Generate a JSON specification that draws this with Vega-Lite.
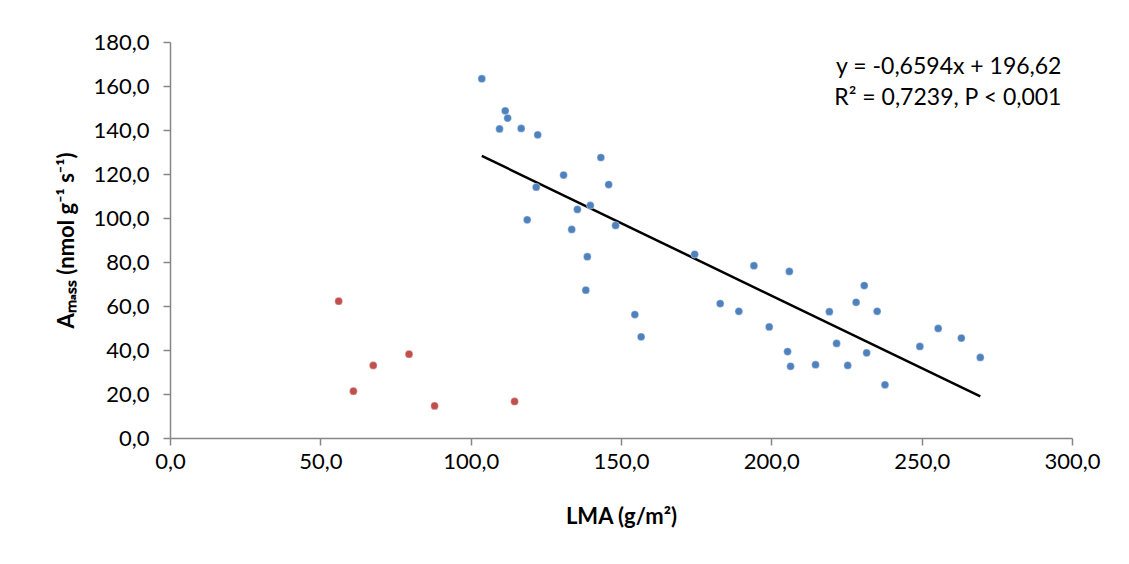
{
  "$schema": "https://vega.github.io/schema/vega-lite/v6.json",
  "width": 902,
  "height": 396,
  "autosize": {"type": "none"},
  "padding": {"left": 170, "top": 42, "right": 57, "bottom": 126},
  "background": "white",
  "config": {
    "view": {"stroke": null},
    "font": "Lato",
    "axis": {
      "grid": false,
      "domainColor": "#868686",
      "tickColor": "#868686",
      "domainWidth": 1.5,
      "tickWidth": 1.5,
      "tickSize": 7,
      "labelFont": "Lato",
      "labelFontSize": 22,
      "labelColor": "#000000",
      "titleFont": "Lato",
      "titleFontSize": 22,
      "titleFontWeight": "bold",
      "titleColor": "#000000"
    }
  },
  "datasets": {
    "pts": [
      {"lma": 103.7, "amass": 163.3, "group": "A"},
      {"lma": 111.5, "amass": 148.7, "group": "A"},
      {"lma": 112.3, "amass": 145.4, "group": "A"},
      {"lma": 109.6, "amass": 140.5, "group": "A"},
      {"lma": 116.8, "amass": 140.7, "group": "A"},
      {"lma": 122.3, "amass": 137.8, "group": "A"},
      {"lma": 143.3, "amass": 127.5, "group": "A"},
      {"lma": 130.9, "amass": 119.5, "group": "A"},
      {"lma": 145.9, "amass": 115.2, "group": "A"},
      {"lma": 121.8, "amass": 114.0, "group": "A"},
      {"lma": 139.8, "amass": 105.7, "group": "A"},
      {"lma": 135.5, "amass": 103.9, "group": "A"},
      {"lma": 118.8, "amass": 99.2, "group": "A"},
      {"lma": 148.2, "amass": 96.6, "group": "A"},
      {"lma": 133.6, "amass": 94.8, "group": "A"},
      {"lma": 138.8, "amass": 82.4, "group": "A"},
      {"lma": 138.3, "amass": 67.2, "group": "A"},
      {"lma": 154.6, "amass": 56.1, "group": "A"},
      {"lma": 156.7, "amass": 46.0, "group": "A"},
      {"lma": 174.5, "amass": 83.5, "group": "A"},
      {"lma": 194.2, "amass": 78.3, "group": "A"},
      {"lma": 206.0, "amass": 75.7, "group": "A"},
      {"lma": 230.9, "amass": 69.3, "group": "A"},
      {"lma": 183.0, "amass": 61.1, "group": "A"},
      {"lma": 189.2, "amass": 57.6, "group": "A"},
      {"lma": 228.2, "amass": 61.7, "group": "A"},
      {"lma": 219.3, "amass": 57.4, "group": "A"},
      {"lma": 235.2, "amass": 57.6, "group": "A"},
      {"lma": 199.3, "amass": 50.5, "group": "A"},
      {"lma": 255.5, "amass": 49.8, "group": "A"},
      {"lma": 263.2, "amass": 45.4, "group": "A"},
      {"lma": 221.7, "amass": 43.0, "group": "A"},
      {"lma": 249.4, "amass": 41.6, "group": "A"},
      {"lma": 205.4, "amass": 39.3, "group": "A"},
      {"lma": 231.7, "amass": 38.7, "group": "A"},
      {"lma": 269.5, "amass": 36.6, "group": "A"},
      {"lma": 206.4, "amass": 32.6, "group": "A"},
      {"lma": 214.7, "amass": 33.3, "group": "A"},
      {"lma": 225.4, "amass": 33.0, "group": "A"},
      {"lma": 237.8, "amass": 24.2, "group": "A"},
      {"lma": 56.1, "amass": 62.2, "group": "B"},
      {"lma": 67.6, "amass": 33.0, "group": "B"},
      {"lma": 79.5, "amass": 38.1, "group": "B"},
      {"lma": 61.0, "amass": 21.3, "group": "B"},
      {"lma": 88.0, "amass": 14.6, "group": "B"},
      {"lma": 114.6, "amass": 16.6, "group": "B"}
    ],
    "fit": [
      {"lma": 103.7, "amass": 128.24},
      {"lma": 269.5, "amass": 18.91}
    ]
  },
  "layer": [
    {
      "data": {"name": "fit"},
      "mark": {"type": "line", "color": "#000000", "strokeWidth": 2.5},
      "encoding": {
        "x": {"field": "lma", "type": "quantitative"},
        "y": {"field": "amass", "type": "quantitative"}
      }
    },
    {
      "data": {"name": "pts"},
      "mark": {"type": "circle", "size": 60, "opacity": 1, "stroke": "#ffffff", "strokeWidth": 0.6, "strokeOpacity": 0.6},
      "encoding": {
        "x": {
          "field": "lma", "type": "quantitative",
          "scale": {"domain": [0, 300], "nice": false, "zero": false},
          "axis": {
            "title": "LMA (g/m²)",
            "values": [0, 50, 100, 150, 200, 250, 300],
            "labelExpr": "replace(format(datum.value, '.1f'), '.', ',')",
            "labelPadding": 6,
            "titlePadding": 34,
            "labelFlush": false
          }
        },
        "y": {
          "field": "amass", "type": "quantitative",
          "scale": {"domain": [0, 180], "nice": false, "zero": false},
          "axis": {
            "title": "Aₘₐₛₛ (nmol g⁻¹ s⁻¹)",
            "values": [0, 20, 40, 60, 80, 100, 120, 140, 160, 180],
            "labelExpr": "replace(format(datum.value, '.1f'), '.', ',')",
            "labelPadding": 14,
            "titlePadding": 14,
            "labelFlush": false
          }
        },
        "color": {
          "field": "group", "type": "nominal",
          "scale": {"domain": ["A", "B"], "range": ["#4F81BD", "#C0504D"]},
          "legend": null
        }
      }
    },
    {
      "data": {"values": [{}]},
      "mark": {"type": "text", "align": "right", "baseline": "middle", "fontSize": 23, "font": "Lato", "color": "#000000", "lineHeight": 31, "text": ["y = -0,6594x + 196,62", "R² = 0,7239, P < 0,001"]},
      "encoding": {
        "x": {"datum": 296.5},
        "y": {"datum": 168.8}
      }
    }
  ]
}
